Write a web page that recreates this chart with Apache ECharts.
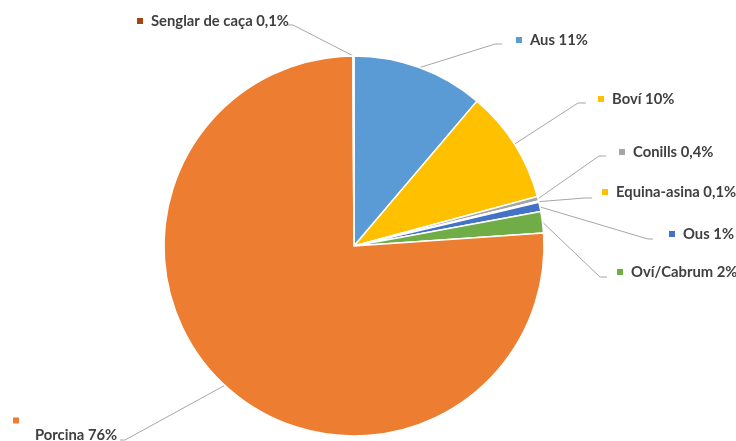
<!DOCTYPE html>
<html>
<head>
<meta charset="utf-8">
<script src="https://cdn.jsdelivr.net/npm/echarts@6/dist/echarts.min.js"></script>
<style>
  html, body { margin: 0; padding: 0; background: #fff; }
  #chart { width: 736px; height: 441px; }
</style>
</head>
<body>
<div id="chart"></div>
<script>
  // dades
  var categories = ['Aus', 'Boví', 'Conills', 'Equina-asina', 'Ous', 'Oví/Cabrum', 'Porcina', 'Senglar de caça'];
  var values = [11.2, 9.6, 0.4, 0.1, 0.8, 1.8, 76, 0.1];
  var percentLabels = ['11%', '10%', '0,4%', '0,1%', '1%', '2%', '76%', '0,1%'];
  var colors = ['#5B9BD5', '#FFC000', '#A5A5A5', '#FFC000', '#4472C4', '#70AD47', '#ED7D31', '#9E480E'];

  // posicio de les etiquetes: [x, y, colzeX, colzeY, fiX, fiY]
  var labelPos = [
    [516, 40, 495, 44, 502, 44],
    [598, 99, 578, 103, 586, 103],
    [619, 152, 599, 156, 606, 156],
    [602, 192, 585, 198, 592, 198],
    [669, 234, 648, 239, 653, 239],
    [617, 272, 600, 277, 607, 277],
    [13, 430, 125, 440, 120, 440],
    [137, 21, 293, 25, 288, 25]
  ];

  var rich = {
    t: { fontFamily: 'Lato', fontWeight: 'bold', fontSize: 14.8, color: '#404040', padding: [0, 0, 0, 8] },
    tp: { fontFamily: 'Lato', fontWeight: 'bold', fontSize: 14.8, color: '#404040', padding: [4, 0, 0, 22] }
  };
  colors.forEach(function (c, i) {
    rich['s' + i] = { width: 6, height: 6, backgroundColor: c, verticalAlign: 'middle' };
  });

  var data = categories.map(function (name, i) {
    return { name: name, value: values[i], itemStyle: { color: colors[i] } };
  });

  var myChart = echarts.init(document.getElementById('chart'));
  myChart.setOption({
    animation: false,
    series: [{
      type: 'pie',
      center: [354, 246],
      radius: 190,
      startAngle: 90,
      clockwise: true,
      avoidLabelOverlap: false,
      data: data,
      itemStyle: { borderColor: '#fff', borderWidth: 1.5 },
      label: {
        show: true,
        position: 'outside',
        formatter: function (p) {
          var i = p.dataIndex;
          if (categories[i] === 'Porcina') {
            return '{s' + i + '|}\n{tp|' + p.name + ' ' + percentLabels[i] + '}';
          }
          return '{s' + i + '|}{t|' + p.name + ' ' + percentLabels[i] + '}';
        },
        rich: rich
      },
      labelLine: { show: true, lineStyle: { color: '#A6A6A6', width: 1 } },
      labelLayout: function (params) {
        var lp = labelPos[params.dataIndex];
        var start = params.labelLinePoints ? params.labelLinePoints[0] : [lp[2], lp[3]];
        return {
          x: lp[0],
          y: lp[1],
          align: 'left',
          verticalAlign: 'middle',
          labelLinePoints: [start, [lp[2], lp[3]], [lp[4], lp[5]]]
        };
      }
    }]
  });
</script>
</body>
</html>
